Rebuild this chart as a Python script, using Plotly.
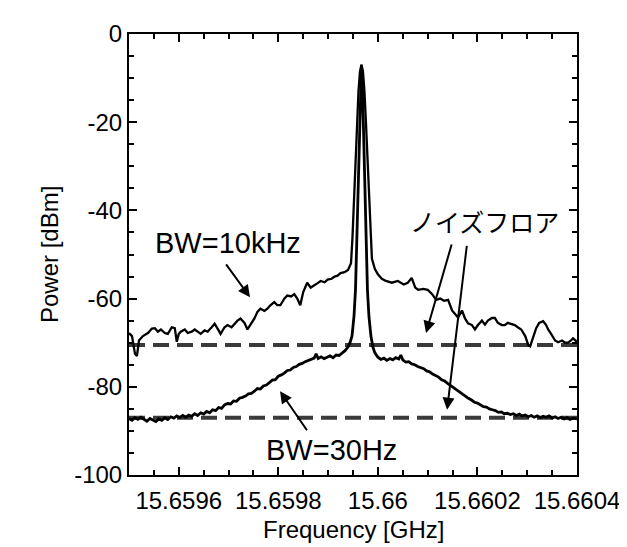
import plotly.graph_objects as go

F0 = 15.6595  # GHz, left edge of the sweep

# BW=10kHz trace: frequency offset from F0 [kHz], power [dBm]
off_10k = [0, 6, 12, 16, 20, 28, 38, 46, 52, 58, 64, 72, 78, 86, 92, 96, 100, 104, 112, 118,
           126, 132, 138, 144, 152, 158, 166, 172, 178, 184, 192, 198, 206, 212, 218, 224, 232,
           238, 244, 252, 258, 264, 272, 278, 284, 292, 298, 304, 312, 318, 326, 332, 338, 344,
           350, 358, 365, 373, 379, 385, 393, 399, 407, 413, 419, 425, 433, 440, 446, 449, 452,
           455, 458, 461, 464, 467, 470, 473, 476, 479, 482, 485, 488, 494, 500, 508, 516, 528,
           540, 552, 560, 568, 575, 581, 591, 600, 609, 617, 625, 633, 641, 649, 655, 661, 669,
           675, 681, 689, 695, 701, 709, 715, 721, 729, 735, 741, 749, 755, 761, 769, 775, 781,
           788, 796, 802, 806, 812, 818, 824, 832, 838, 842, 848, 856, 862, 870, 876, 882, 888,
           892, 900]
pow_10k = [-67.8, -68.5, -72.5, -73.0, -69.5, -68.5, -67.8, -66.8, -66.7, -67.5, -67.0, -67.8,
           -68.0, -66.5, -66.7, -69.8, -68.0, -67.5, -67.0, -67.8, -67.5, -67.0, -67.5, -68.0,
           -67.2, -67.5, -66.5, -65.7, -66.8, -68.0, -66.5, -66.0, -66.5, -65.7, -65.0, -64.5,
           -65.5, -67.0, -66.0, -64.5, -63.0, -62.3, -62.8, -62.3, -61.5, -60.8, -61.5, -61.5,
           -60.0, -59.3, -59.5, -59.0, -60.0, -61.5, -58.5, -56.4, -57.5, -57.0, -56.5, -56.0,
           -56.3, -55.7, -55.5, -55.0, -54.8, -54.2, -54.0, -53.5, -52.0, -46.0, -38.0, -28.0,
           -20.0, -13.0, -8.5, -7.0, -8.5, -13.0, -20.0, -28.0, -37.0, -45.0, -51.0, -53.3,
           -54.5, -55.5, -56.0, -56.4, -56.0, -56.8, -56.4, -55.3, -57.5, -58.0, -57.8, -58.0,
           -59.0, -60.3, -60.0, -60.5, -60.3, -62.7, -63.5, -64.3, -62.7, -64.5, -65.6, -66.0,
           -67.0, -66.0, -65.0, -65.9, -65.0, -64.4, -64.4, -65.5, -66.0, -66.0, -65.5, -65.8,
           -66.0, -66.5, -67.0, -68.5, -70.5, -70.8, -68.5, -66.7, -65.5, -65.1, -66.0, -67.0,
           -68.0, -69.5, -69.9, -69.5, -70.0, -70.0, -69.5, -69.0, -69.8]

# BW=30Hz trace: frequency offset from F0 [kHz], power [dBm]
off_30 = [0, 6, 12, 18, 24, 30, 36, 42, 48, 54, 60, 66, 72, 78, 84, 90, 96, 102, 108, 114, 120,
          126, 132, 138, 144, 150, 156, 162, 168, 174, 180, 186, 192, 198, 204, 210, 216, 222,
          228, 234, 240, 246, 252, 258, 264, 270, 276, 282, 288, 294, 300, 306, 312, 318, 324,
          330, 336, 342, 348, 354, 360, 366, 372, 376, 380, 386, 392, 398, 404, 410, 416, 422,
          428, 434, 440, 444, 448, 452, 455, 457, 459, 461, 463, 465, 467, 469, 471, 473, 475,
          477, 479, 482, 486, 490, 494, 500, 506, 512, 518, 524, 530, 536, 542, 546, 550, 556,
          562, 568, 574, 580, 586, 592, 598, 604, 610, 616, 622, 628, 634, 640, 646, 652, 658,
          664, 670, 676, 682, 688, 694, 700, 706, 712, 718, 724, 730, 736, 742, 748, 754, 760,
          766, 772, 778, 784, 790, 796, 802, 808, 814, 820, 826, 832, 838, 844, 850, 856, 862,
          868, 874, 880, 886, 892, 900]
pow_30 = [-87.2, -87.6, -87.0, -87.4, -86.9, -87.3, -87.8, -87.2, -87.5, -87.9, -87.3, -87.6,
          -87.0, -87.4, -86.8, -87.1, -86.6, -87.0, -86.5, -86.9, -86.4, -86.7, -86.1, -86.5,
          -85.9, -86.2, -85.6, -85.9, -85.2, -85.4, -84.7, -84.9, -84.1, -83.8, -83.9, -83.2,
          -83.3, -82.6, -82.4, -82.1, -81.6, -81.5, -81.0, -80.4, -80.5, -79.8, -79.6, -79.0,
          -78.5, -78.4, -77.6, -77.3, -76.9, -76.3, -76.2, -75.6, -75.4, -74.9, -74.7, -74.3,
          -74.0, -73.8, -73.5, -72.5, -73.6, -73.2, -73.6, -73.3, -73.0, -73.4, -72.8, -72.9,
          -72.4, -71.8, -71.0, -70.0, -68.5, -64.0, -58.0, -50.0, -41.0, -31.0, -21.0, -12.0,
          -7.0, -12.0, -21.0, -31.0, -41.0, -50.0, -58.0, -64.0, -68.5, -71.0, -72.3, -73.3,
          -73.8, -73.5, -74.0, -73.6, -73.9, -73.4, -73.7, -72.8, -73.9, -74.4, -74.3, -74.8,
          -75.0, -75.4, -75.6, -75.9, -76.4, -76.6, -77.1, -77.4, -77.8, -78.4, -78.7, -79.2,
          -79.7, -80.2, -80.7, -81.1, -81.8, -82.1, -82.6, -83.0, -83.5, -83.7, -84.1, -84.5,
          -84.6, -85.0, -85.2, -85.4, -85.8, -85.7, -86.1, -86.0, -86.3, -86.1, -86.5, -86.2,
          -86.6, -86.4, -86.8, -86.5, -86.9, -86.6, -87.0, -86.7, -86.9, -86.6, -87.1, -86.8,
          -87.2, -86.9, -87.3, -87.0, -87.4, -87.1, -87.3]

# Noise floor levels [dBm]
noise_floor_10k = -70.5
noise_floor_30 = -87.0

x_range = [15.6595, 15.6604]
y_range = [-100, 0]
x_tickvals = [15.6596, 15.6598, 15.6600, 15.6602, 15.6604]
x_ticktext = ["15.6596", "15.6598", "15.66", "15.6602", "15.6604"]
y_tickvals = [0, -20, -40, -60, -80, -100]
y_ticktext = ["0", "-20", "-40", "-60", "-80", "-100"]

def ghz(offsets):
    return [F0 + k * 1e-6 for k in offsets]

FONT = "Liberation Sans, Arial, Helvetica, sans-serif"
dash_style = dict(color="#3a3a3a", width=4, dash="16px,8px")

fig = go.Figure()
fig.add_trace(go.Scatter(x=x_range, y=[noise_floor_10k] * 2, mode="lines", line=dash_style,
                         hoverinfo="skip"))
fig.add_trace(go.Scatter(x=x_range, y=[noise_floor_30] * 2, mode="lines", line=dash_style,
                         hoverinfo="skip"))
fig.add_trace(go.Scatter(x=ghz(off_10k), y=pow_10k, mode="lines", name="BW=10kHz",
                         line=dict(color="black", width=2.3)))
fig.add_trace(go.Scatter(x=ghz(off_30), y=pow_30, mode="lines", name="BW=30Hz",
                         line=dict(color="black", width=2.8)))

arrow_common = dict(xref="x", yref="y", axref="x", ayref="y", text="", showarrow=True,
                    arrowhead=2, arrowsize=1.2, arrowwidth=2, arrowcolor="black")
annotations = [
    dict(x=15.6597431, y=-59.7, ax=15.6596929, ay=-51.9, **arrow_common),
    dict(x=15.6598034, y=-81.0, ax=15.6598596, ay=-90.2, **arrow_common),
    dict(x=15.6600967, y=-67.8, ax=15.6601490, ay=-47.4, **arrow_common),
    dict(x=15.6601390, y=-85.2, ax=15.6601790, ay=-47.7, **arrow_common),
    dict(x=15.6596989, y=-47.4, xref="x", yref="y", text="BW=10kHz", showarrow=False,
         font=dict(family=FONT, size=29, color="black")),
    dict(x=15.6599058, y=-94.4, xref="x", yref="y", text="BW=30Hz", showarrow=False,
         font=dict(family=FONT, size=29, color="black")),
    dict(x=15.6602150, y=-42.3, xref="x", yref="y", text="ノイズフロア", showarrow=False,
         font=dict(family="Noto Sans CJK JP", size=25, color="black")),
    dict(x=(26 - 121) / 448, y=0.5, xref="paper", yref="paper", text="Power [dBm]",
         textangle=-90, showarrow=False, font=dict(family=FONT, size=24, color="black")),
    dict(x=0.5, y=(467 - 538) / 447, xref="paper", yref="paper", text="Frequency [GHz]",
         showarrow=False, font=dict(family=FONT, size=24, color="black")),
]

fig.update_layout(
    width=627, height=547,
    margin=dict(l=121, r=58, t=20, b=80),
    paper_bgcolor="white", plot_bgcolor="white",
    showlegend=False,
    font=dict(family=FONT, size=24, color="black"),
    annotations=annotations,
    xaxis=dict(range=x_range, tickmode="array", tickvals=x_tickvals, ticktext=x_ticktext,
               ticks="inside", ticklen=8, tickwidth=2, tickcolor="black",
               showline=True, linecolor="black", linewidth=2, mirror="allticks",
               showgrid=False, zeroline=False, ticklabelstandoff=3,
               minor=dict(tickmode="linear", tick0=15.6595, dtick=0.00005, ticks="inside",
                          ticklen=5, tickwidth=2, tickcolor="black", showgrid=False),
               tickfont=dict(family=FONT, size=24, color="black")),
    yaxis=dict(range=y_range, tickmode="array", tickvals=y_tickvals, ticktext=y_ticktext,
               ticks="inside", ticklen=8, tickwidth=2, tickcolor="black",
               showline=True, linecolor="black", linewidth=2, mirror="allticks",
               showgrid=False, zeroline=False,
               minor=dict(tickmode="linear", tick0=0, dtick=5, ticks="inside",
                          ticklen=5, tickwidth=2, tickcolor="black", showgrid=False),
               tickfont=dict(family=FONT, size=24, color="black")),
)

fig.write_html("out.html")
